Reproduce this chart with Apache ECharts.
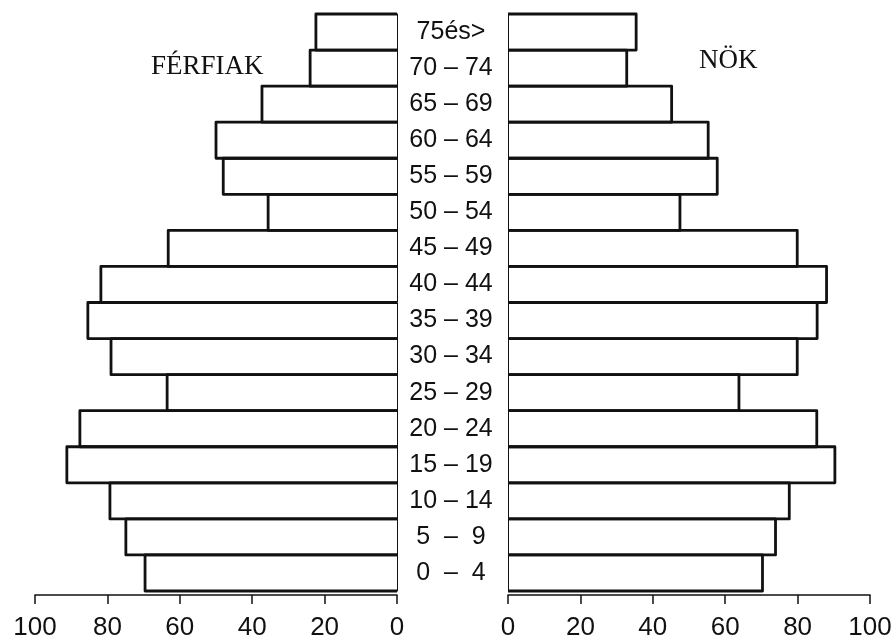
<!DOCTYPE html>
<html>
<head>
<meta charset="utf-8">
<script src="https://cdn.jsdelivr.net/npm/echarts@6/dist/echarts.min.js"></script>
<style>
  html, body { margin: 0; padding: 0; background: #fff; }
  #main { width: 895px; height: 641px; }
</style>
</head>
<body>
<div id="main"></div>
<script>
// korcsoportok, alulról felfelé
const ages = ['0  –  4', '5  –  9', '10 – 14', '15 – 19', '20 – 24', '25 – 29', '30 – 34',
  '35 – 39', '40 – 44', '45 – 49', '50 – 54', '55 – 59', '60 – 64', '65 – 69', '70 – 74', '75és>'];
const ferfiak = [69.6, 74.9, 79.3, 91.2, 87.6, 63.5, 79.0, 85.4, 81.8, 63.2, 35.6, 48.0, 50.0, 37.3, 24.0, 22.4];
const nok = [70.3, 73.9, 77.7, 90.3, 85.3, 63.8, 79.9, 85.4, 88.0, 79.9, 47.5, 57.8, 55.3, 45.2, 32.8, 35.4];

const INK = '#111';
const NUMFONT = 'Liberation Sans';

const xAxisBase = (idx, inverse) => ({
  type: 'value',
  gridIndex: idx,
  inverse: inverse,
  min: 0,
  max: 100,
  interval: 20,
  offset: 4,
  splitLine: { show: false },
  axisLine: { show: true, lineStyle: { color: INK, width: 1.5 } },
  axisTick: { show: true, length: 9, lineStyle: { color: INK, width: 1.5 } },
  axisLabel: { color: INK, fontSize: 26, fontFamily: NUMFONT, margin: 20 }
});

// oszlop: felső, külső és alsó él (a belső élt a tengelyvonal adja)
const renderBar = (params, api) => {
  const idx = api.value(1);
  const base = api.coord([0, idx]);
  const tip = api.coord([api.value(0), idx]);
  const h = api.size([0, 1])[1];
  const y0 = base[1] - h / 2;
  const y1 = base[1] + h / 2;
  return {
    type: 'polyline',
    shape: { points: [[base[0], y0], [tip[0], y0], [tip[0], y1], [base[0], y1]] },
    style: { fill: null, stroke: INK, lineWidth: 2.8, lineJoin: 'round' }
  };
};

const toItems = (vals) => vals.map((v, i) => [v, i]);

const chart = echarts.init(document.getElementById('main'));
chart.setOption({
  backgroundColor: '#fff',
  animation: false,
  title: [
    { text: 'FÉRFIAK', left: 146, top: 48,
      textStyle: { fontFamily: 'Liberation Serif', fontWeight: 'normal', fontSize: 27, color: INK } },
    { text: 'NÖK', left: 694, top: 42,
      textStyle: { fontFamily: 'Liberation Serif', fontWeight: 'normal', fontSize: 27, color: INK } }
  ],
  grid: [
    { left: 35, right: 498, top: 14, bottom: 48 },
    { left: 508, right: 25, top: 14, bottom: 48 }
  ],
  xAxis: [xAxisBase(0, true), xAxisBase(1, false)],
  yAxis: [
    {
      type: 'category',
      gridIndex: 0,
      position: 'right',
      data: ages,
      axisLine: { show: true, lineStyle: { color: INK, width: 1 } },
      axisTick: { show: false },
      axisLabel: { color: INK, fontSize: 25, fontFamily: NUMFONT, align: 'center', margin: 54 }
    },
    {
      type: 'category',
      gridIndex: 1,
      position: 'left',
      data: ages,
      axisLine: { show: true, lineStyle: { color: INK, width: 1 } },
      axisTick: { show: false },
      axisLabel: { show: false }
    }
  ],
  series: [
    {
      name: 'FÉRFIAK',
      type: 'custom',
      xAxisIndex: 0,
      yAxisIndex: 0,
      data: toItems(ferfiak),
      encode: { x: 0, y: 1 },
      renderItem: renderBar
    },
    {
      name: 'NÖK',
      type: 'custom',
      xAxisIndex: 1,
      yAxisIndex: 1,
      data: toItems(nok),
      encode: { x: 0, y: 1 },
      renderItem: renderBar
    }
  ]
});
</script>
</body>
</html>
